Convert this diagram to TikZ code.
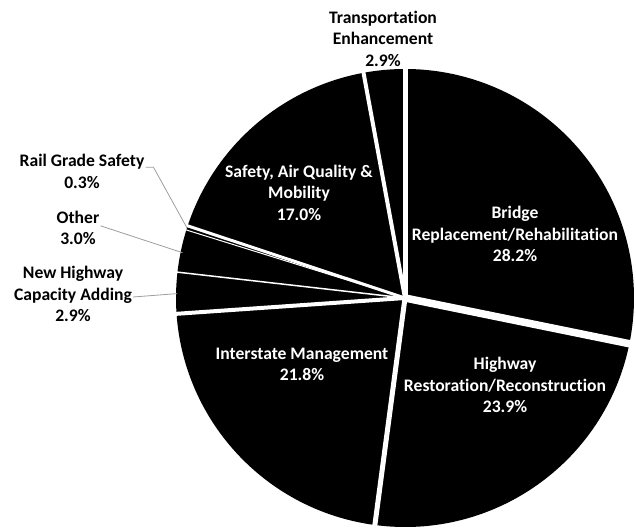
\documentclass[tikz,border=0pt]{standalone}
\usepackage{fontspec}
\setmainfont{Carlito}[Ligatures=NoCommon]
\usetikzlibrary{calc}
\begin{document}
\begin{tikzpicture}[x=1pt,y=1pt,
  slice/.style={fill=black,draw=none},
  gap/.style={draw=white},
  lab/.style={align=center,inner sep=0pt,font=\bfseries\fontsize{17.6}{21.5}\selectfont},
  inlab/.style={lab,text=white},
  outlab/.style={lab,text=black},
  leader/.style={draw=black!38,line width=0.8pt}]
\useasboundingbox (0,0) rectangle (636,527);
\coordinate (C) at (405,229);
\def\R{229}
% slices (clockwise from top)
\foreach \a/\b in {90/-11.52, -11.52/-97.56, -97.56/-176.04, -176.04/-186.48,
                   -186.48/-197.28, -197.28/-198.36, -198.36/-259.56, -259.56/-270}
  \fill[slice] (C) -- ++(\a:\R) arc[start angle=\a, end angle=\b, radius=\R] -- cycle;
% white separators
\foreach \a/\w in {90/5, -11.52/7.5, -97.56/5, -176.04/4, -186.48/1.5,
                   -197.28/1, -198.36/3, -259.56/4}
  \draw[gap,line width=\w pt] (C) -- ++(\a:\R+4);
\fill[white] (C) circle (3);
% anchor points on the rim for leaders
\coordinate (railpt) at ($(C)+(162.18:\R)$);
\coordinate (otherpt) at ($(C)+(168.5:\R-2)$);
\coordinate (nhpt) at ($(C)+(178.9:\R-1)$);
% labels
\node[outlab] (trans) at (383,488.5) {Transportation\\Enhancement\\2.9\%};
\node[inlab] (safety) at (299,334.5) {Safety, Air Quality \&\\Mobility\\17.0\%};
\node[inlab] (bridge) at (515,293) {Bridge\\Replacement/Rehabilitation\\28.2\%};
\node[inlab] (hwy) at (505,142) {Highway\\Restoration/Reconstruction\\23.9\%};
\node[inlab] (inter) at (302,162.5) {Interstate Management\\21.8\%};
\node[outlab] (rail) at (82,355.5) {Rail Grade Safety\\0.3\%};
\node[outlab] (other) at (78,299) {Other\\3.0\%};
\node[outlab] (nh) at (73,233) {New Highway\\Capacity Adding\\2.9\%};
% leaders
\draw[leader] ([yshift=-13pt,xshift=1pt]rail.north east) -- ++(8,0) -- (railpt);
\draw[leader] ([yshift=-15pt,xshift=1pt]other.north east) -- (otherpt);
\draw[leader] ([yshift=-3pt,xshift=1pt]nh.east) -- (nhpt);
\end{tikzpicture}
\end{document}
